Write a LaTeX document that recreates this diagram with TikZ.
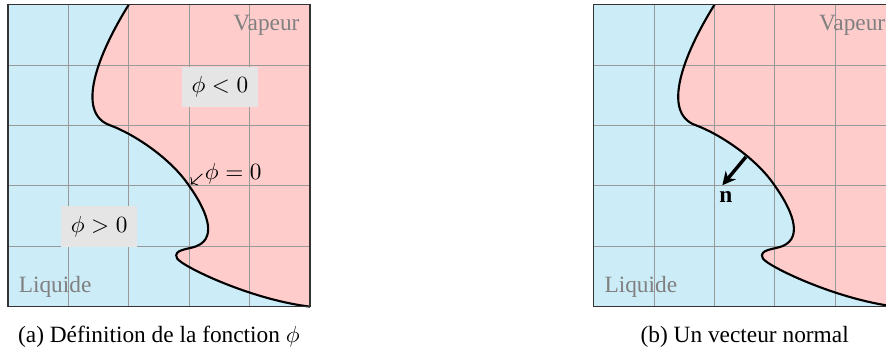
\documentclass[tikz,border=0pt]{standalone}
\usepackage{fontspec}
\setmainfont{Liberation Serif}
\usepackage{amsmath,amssymb}
\usetikzlibrary{arrows.meta,positioning}
\definecolor{liquide}{RGB}{204,236,248}
\definecolor{vapeur}{RGB}{255,204,204}
\newcommand{\interface}{(2,5) .. controls (1.5,4.2) and (1.1,3.2) .. (1.7,3.0) .. controls (2.1,2.85) and (2.7,2.45) .. (3,2) .. controls (3.25,1.65) and (3.5,1.15) .. (3.12,1.0) .. controls (3.0,0.95) and (2.72,0.95) .. (2.8,0.8) .. controls (2.86,0.68) and (4.0,0.12) .. (5,0)}
\begin{document}
\begin{tikzpicture}[
  >={To},
  every node/.style={font=\fontsize{11}{13}\selectfont},
  grille/.style={draw=gray!80, line width=0.4pt},
  cadre/.style={draw=black!80, line width=0.6pt},
  courbe/.style={draw=black, line width=1pt},
  etiquette/.style={fill=black!10, minimum width=1.26cm, minimum height=0.67cm, inner sep=0pt},
  phase/.style={text=gray},
  legende/.style={anchor=base}
]
\useasboundingbox (-0.132,-0.767) rectangle (14.54,5.078);
\foreach \dx/\nom in {0/a, 9.7/b}{
  \begin{scope}[xshift=\dx cm]
    \fill[liquide] (0,0) rectangle (5,5);
    \fill[vapeur] \interface -- (5,5) -- cycle;
    \draw[grille] (0,0) grid (5,5);
    \draw[courbe] \interface;
    \draw[cadre] (0,0) rectangle (5,5);
    \node[phase] (vap-\nom) at (4.28,4.66) {Vapeur};
    \node[phase] (liq-\nom) at (0.78,0.32) {Liquide};
  \end{scope}
}
\node[etiquette] (neg) at (3.51,3.64) {$\phi<0$};
\node[etiquette] (pos) at (1.51,1.33) {$\phi>0$};
\coordinate (c0) at (3,2);
\node[anchor=west, inner sep=1pt] (nul) at (3.22,2.2) {$\phi=0$};
\draw[->, shorten >=1pt] (nul.west) -- (c0);
\coordinate (pied) at (12.22,2.48);
\coordinate (bout) at (11.83,2.01);
\draw[-{Stealth[length=2.2mm,width=2.2mm]}, line width=1.6pt] (pied) -- (bout);
\node (n) at (11.89,1.81) {\textbf{n}};
\node[legende] (leg-a) at (2.5,-0.6) {(a) Définition de la fonction $\phi$};
\node[legende] (leg-b) at (12.2,-0.6) {(b) Un vecteur normal};
\end{tikzpicture}
\end{document}
